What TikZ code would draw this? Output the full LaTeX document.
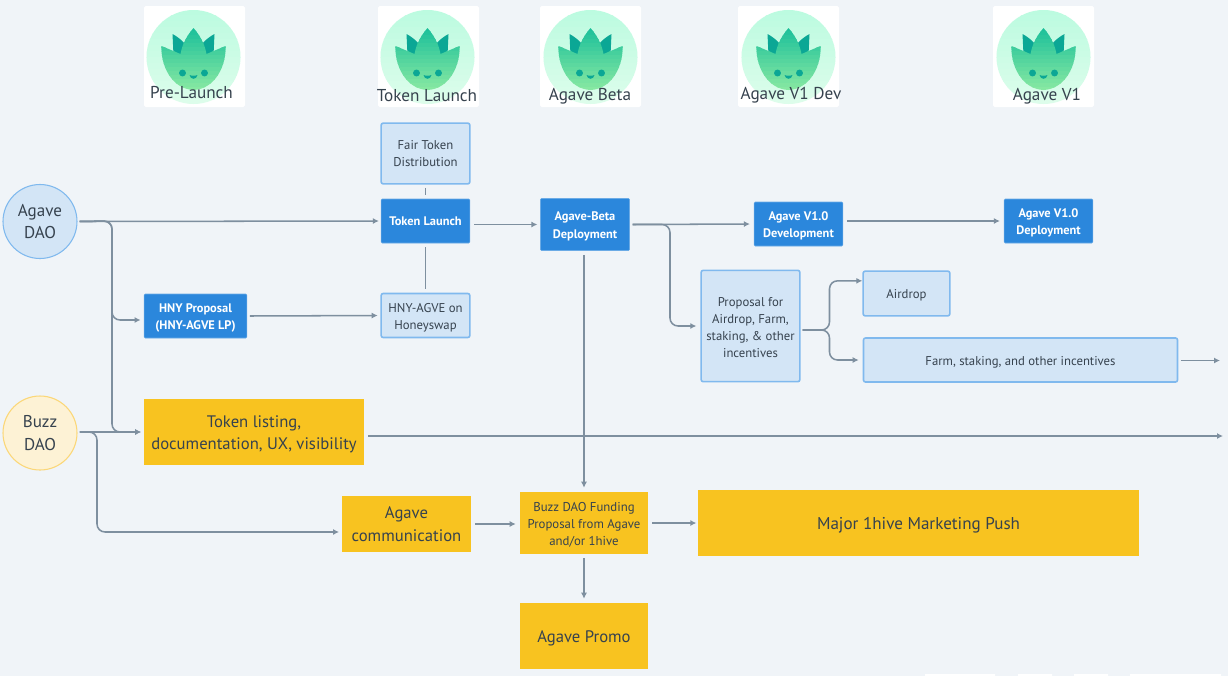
\documentclass[tikz,border=0pt]{standalone}
\usepackage{fontspec}
\setmainfont{PT Sans}
\usetikzlibrary{arrows.meta}
\definecolor{bgc}{HTML}{F0F4F8}
\definecolor{bluec}{HTML}{2B87DC}
\definecolor{lightc}{HTML}{D3E5F6}
\definecolor{lightb}{HTML}{80B9EE}
\definecolor{yellowc}{HTML}{F8C320}
\definecolor{buzzc}{HTML}{FDF2D5}
\definecolor{buzzb}{HTML}{FBD778}
\definecolor{linec}{HTML}{7E8F9F}
\definecolor{textc}{HTML}{36424E}
\definecolor{petal}{HTML}{0BA795}
\definecolor{ringtop}{HTML}{BCFBE0}
\definecolor{ringbot}{HTML}{DDFDEB}
\definecolor{bodytop}{HTML}{1CC09A}
\definecolor{bodybot}{HTML}{86E8A2}
\newcommand{\fsz}[2]{\fontsize{#1}{#2}\selectfont}
\newcommand{\dr}{\rule{0pt}{1.0em}}
\tikzset{
  x=0.75pt,y=-0.75pt,
  boxbase/.style={rectangle,inner sep=0pt,align=center,text=textc},
  bluebox/.style={boxbase,fill=bluec,rounded corners=0.8pt,draw=bluec!70!white,line width=0.4pt,text=white,font=\fsz{9.3}{13}\bfseries},
  lightbox/.style={boxbase,fill=lightc,draw=lightb,line width=1.2pt,rounded corners=1.5pt,font=\fsz{9.55}{12.8}},
  yellowbox/.style={boxbase,fill=yellowc,font=\fsz{12.5}{17}},
  daoA/.style={circle,inner sep=0pt,align=center,text=textc,minimum size=55.5pt,fill=lightc,draw=lightb,line width=0.8pt,font=\fsz{12.8}{17}},
  daoB/.style={circle,inner sep=0pt,align=center,text=textc,minimum size=55.5pt,fill=buzzc,draw=buzzb,line width=0.8pt,font=\fsz{12.8}{17}},
  card/.style={rectangle,fill=white,rounded corners=1.2pt,minimum width=75.75pt,minimum height=75.75pt,inner sep=0pt},
  cardtext/.style={inner sep=0pt,text=textc,font=\fsz{12.9}{15}},
  conn/.style={draw=linec,line width=1.15pt,-{Latex[length=4.5pt,width=4.5pt]}},
  bare/.style={draw=linec,line width=1.15pt},
  logo/.pic={
    \begin{scope}
      \clip (0,0) circle[radius=35.25pt];
      \foreach \k in {0,...,15}{
        \pgfmathsetmacro{\mix}{100-\k*100/15}
        \fill[ringtop!\mix!ringbot] (-48,-48+\k*6) rectangle (48,-41.5+\k*6);
      }
    \end{scope}
    \fill[petal] (-21,-23) .. controls (-14,-19) and (-9,-15) .. (-7,-10) -- (-14,6) -- (-20,-2) -- cycle;
    \fill[petal] (21,-23) .. controls (14,-19) and (9,-15) .. (7,-10) -- (14,6) -- (20,-2) -- cycle;
    \begin{scope}
      \clip (0,-29) .. controls (6,-22) and (11,-14) .. (13,-3) -- (32,-11)
        .. controls (33,8) and (22,32) .. (0,33)
        .. controls (-22,32) and (-33,8) .. (-32,-11) -- (-13,-3)
        .. controls (-11,-14) and (-6,-22) .. (0,-29) -- cycle;
      \foreach \k in {0,...,15}{
        \pgfmathsetmacro{\mix}{100-\k*100/15}
        \fill[bodytop!\mix!bodybot] (-34,-30+\k*4) rectangle (34,-25.5+\k*4);
      }
    \end{scope}
    \fill[petal] (-11,16) circle[radius=2.6pt] (11,16) circle[radius=2.6pt];
    \fill[petal] (-4,18) .. controls (-2,19) and (2,19) .. (4,18) .. controls (3,23) and (-3,23) .. (-4,18) -- cycle;
  }
}
\begin{document}
\begin{tikzpicture}
\useasboundingbox (0,0) rectangle (1228,676);
\fill[bgc] (0,0) rectangle (1228,676);
% bottom edge of the toolbar
\fill[white] (925,674) rectangle (995,676) (1018,674) rectangle (1052,676) (1074,674) rectangle (1108,676) (1130,674) rectangle (1221,676);

% header cards
\node[card] (c1) at (194.5,56.5) {};
\node[card] (c2) at (428.5,56.5) {};
\node[card] (c3) at (590.5,56.5) {};
\node[card] (c4) at (788.5,56.5) {};
\node[card] (c5) at (1043.5,56.5) {};
\pic at (193.5,57) {logo};
\pic at (427.5,57) {logo};
\pic at (590.5,57) {logo};
\pic at (788.5,57) {logo};
\pic at (1043.5,57) {logo};
\node[cardtext] (t1) at (191.5,92.5) {Pre-Launch};
\node[cardtext] (t2) at (427,95.5) {Token Launch};
\node[cardtext] (t3) at (590,96.5) {Agave Beta};
\node[cardtext] (t4) at (791,95.5) {Agave V1 Dev};
\node[cardtext] (t5) at (1047,96.5) {Agave V1};

% DAO circles
\node[daoA] (agave) at (40,221.5) {Agave\\DAO};
\node[daoB] (buzz) at (40,433) {Buzz\\DAO};

% blue boxes
\node[bluebox,minimum width=66.5pt,minimum height=33pt] (tl) at (425.5,221) {Token Launch};
\node[bluebox,minimum width=67pt,minimum height=39pt] (beta) at (585,224.5) {\dr Agave-Beta\\Deployment};
\node[bluebox,minimum width=66.5pt,minimum height=33pt] (dev) at (798.5,224) {\dr Agave V1.0\\Development};
\node[bluebox,minimum width=66.5pt,minimum height=33pt] (dep) at (1048.5,221) {\dr Agave V1.0\\Deployment};
\node[bluebox,minimum width=77pt,minimum height=33pt] (hnyp) at (195.5,316) {\dr HNY Proposal\\(HNY-AGVE LP)};

% light boxes
\node[lightbox,minimum width=66.5pt,minimum height=45.5pt] (fair) at (425.5,153.5) {Fair Token\\Distribution};
\node[lightbox,minimum width=66.5pt,minimum height=33pt] (hnya) at (425.5,315.5) {\dr HNY-AGVE on\\Honeyswap};
\node[lightbox,minimum width=74pt,minimum height=83.5pt] (prop) at (750.5,326) {\dr Proposal for\\Airdrop, Farm,\\staking, \& other\\incentives};
\node[lightbox,minimum width=65pt,minimum height=33.5pt] (air) at (906.5,293.5) {\dr Airdrop};
\node[lightbox,minimum width=235.5pt,minimum height=33pt] (farm) at (1020.5,360) {\dr Farm, staking, and other incentives};

% yellow boxes
\node[yellowbox,minimum width=165pt,minimum height=49.5pt] (list) at (254,432) {\dr Token listing,\\documentation, UX, visibility};
\node[yellowbox,minimum width=96.75pt,minimum height=42pt] (comm) at (406.5,524) {Agave\\communication};
\node[yellowbox,minimum width=96pt,minimum height=46.5pt,font=\fsz{9.6}{12.6}] (fund) at (584,523) {\dr Buzz DAO Funding\\Proposal from Agave\\and/or 1hive};
\node[yellowbox,minimum width=96pt,minimum height=49.5pt] (promo) at (584,636) {\dr Agave Promo};
\node[yellowbox,minimum width=330.75pt,minimum height=49.5pt,font=\fsz{12.8}{16.5}] (major) at (918.5,523) {\dr Major 1hive Marketing Push};

% junctions and free ends
\coordinate (ja) at (112,221);
\coordinate (jb) at (97,432);
\coordinate (jc) at (670,224.5);
\coordinate (jd) at (829.5,330);
\coordinate (hp) at ([yshift=-3pt]hnyp.west);
\coordinate (ap) at ([yshift=9.5pt]air.west);
\coordinate (cp) at ([yshift=-6pt]comm.west);
\coordinate (farmend) at (1220,360.5);
\coordinate (listend) at (1223,436);

% connectors
\draw[conn,shorten <=1.5pt,shorten >=1.5pt] (agave.east) -- (tl.west);
\draw[conn,rounded corners=6pt,shorten <=1.5pt,shorten >=2.5pt] (agave.east) -- (ja) -- (ja |- hp) -- (hp);
\draw[conn,rounded corners=6pt,shorten <=1.5pt,shorten >=2pt] (agave.east) -- (ja) -- (ja |- list.west) -- (list.west);
\draw[conn,shorten <=1.5pt,shorten >=2pt] (buzz.east |- list.west) -- (list.west);
\draw[conn,rounded corners=6pt,shorten <=1.5pt,shorten >=2pt] (buzz.east |- list.west) -- (jb) -- (jb |- cp) -- (cp);
\draw[conn,shorten <=2pt,shorten >=2pt] (hnyp.east) -- (hnya.west);
\draw[bare,shorten <=2.5pt,shorten >=3pt] (fair.south) -- (tl.north);
\draw[bare,shorten <=3pt,shorten >=3pt] (tl.south) -- (hnya.north);
\draw[conn,shorten <=3pt,shorten >=2pt] (tl.east |- beta.west) -- (beta.west);
\draw[conn,shorten <=2pt,shorten >=3pt] (beta.east) -- (dev.west);
\draw[conn,rounded corners=6pt,shorten <=2pt,shorten >=3pt] (beta.east) -- (jc) -- (jc |- prop.west) -- (prop.west);
\draw[conn,shorten <=3pt,shorten >=3pt] (dev.east |- dep.west) -- (dep.west);
\draw[conn,rounded corners=6pt,shorten <=1.5pt,shorten >=0pt] ([yshift=-3pt]prop.east) -- (jd) -- (jd |- ap) -- (ap);
\draw[conn,rounded corners=6pt,shorten <=1.5pt,shorten >=3pt] ([yshift=-3pt]prop.east) -- (jd) -- (jd |- farm.west) -- (farm.west);
\draw[conn,shorten <=2pt] (farm.east |- farmend) -- (farmend);
\draw[conn,shorten <=3pt] (list.east |- listend) -- (listend);
\draw[conn,shorten <=3pt,shorten >=3pt] (comm.east) -- (comm.east -| fund.west);
\draw[conn,shorten <=3pt,shorten >=1pt] (fund.east) -- (major.west);
\draw[conn,shorten <=3pt,shorten >=3pt] (beta.south -| fund.north) -- (fund.north);
\draw[conn,shorten <=3pt,shorten >=3pt] (fund.south) -- (promo.north);
\end{tikzpicture}
\end{document}
